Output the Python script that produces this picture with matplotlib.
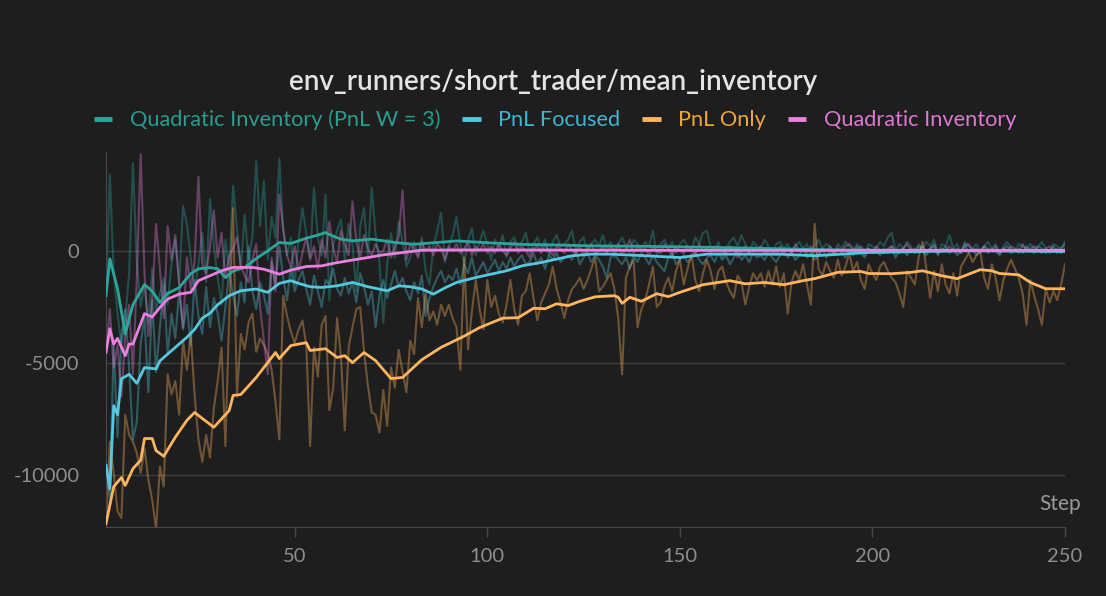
import matplotlib
matplotlib.use('Agg')
import matplotlib.pyplot as plt
from matplotlib.lines import Line2D
import numpy as np

plt.rcParams['font.family'] = ['Lato', 'DejaVu Sans']

# ---- data ----
steps = np.arange(1, 251)

# raw values, one per step
orange_raw = [
    -12200, -8500, -9900, -11600, -11900, -7300, -8200, -8500, -9000, -9900,
    -8800, -10200, -11100, -12400, -9600, -10500, -5500, -6400, -5800, -7300,
    -4000, -5300, -3700, -6400, -8400, -9400, -8200, -9200, -7000, -5800,
    -4300, -8700, -2800, 1900, -6500, -3700, -4400, -3200, -2800, -4500,
    -3900, -4200, -4600, -5300, -6700, -8400, -2000, -2900, -3600, -4100,
    -3500, -3100, -4200, -8700, -4300, -5600, -3300, -2900, -7100, -6100,
    -3000, -4700, -8000, -4300, -3400, -2600, -2500, -4500, -6000, -7200,
    -7300, -8100, -6200, -7800, -5200, -6100, -4400, -5400, -6300, -4000,
    -4600, -2100, -3400, -1900, -3100, -2700, -3300, -2400, -2900, -2400,
    -3000, -3400, -5300, -300, -4400, -2700, -1300, -2600, -3500, -1300,
    -2500, -2000, -2800, -3200, -2400, -1300, -2600, -3300, -2000, -1800,
    -1000, -2100, -3100, -2300, -1900, -1500, -700, -1700, -2300, -3000,
    -2200, -1700, -1500, -1200, -1700, -1300, -800, -300, -1800, -1600,
    -1300, -1000, -1700, -3000, -5500, -1200, -700, -400, -3400, -2600,
    -2200, -1500, -700, -2500, -2300, -1600, -1200, -1800, -900, -400,
    -1500, -800, -150, -1300, -1800, -1000, -400, -900, -1700, -900,
    -700, -1400, -1800, -2100, -1100, -1400, -2400, -1600, -1000, -1300,
    -1000, -1600, -900, -1500, -700, -1600, -1000, -2800, -1400, -900,
    -1300, -600, -1500, -2400, 1200, -800, -1100, -500, -900, -1200,
    -400, -1100, -700, -100, -900, -500, -1300, -1700, -600, -1000,
    -1300, -700, -500, -900, -1200, -1400, -1900, -2500, -900, -1200,
    -1500, -300, 400, -800, -2100, -900, -1800, -600, -1500, -1900,
    -1000, -2000, -700, -400, -100, -500, -200, 0, -1200, -1700,
    -600, -1200, -2200, -1300, -800, -400, -800, -1200, -1900, -3300,
    -1300, -2000, -2600, -3300, -1700, -2300, -1800, -2200, -1500, -600,
]

teal_raw = [
    -1800, 3400, -1000, -2800, -4200, -3000, -1000, 3900, -500, -2500,
    -1500, -3200, -800, -2600, -1900, -1200, -2400, -600, 500, -1500,
    2000, 1200, -300, -1800, -600, 800, -1400, 2300, 200, -1200,
    -2400, 500, -900, 2900, 1000, -800, 1600, -400, 600, 4000,
    1100, 3100, -400, 1500, 600, 4100, 900, -200, 600, -1500,
    500, 1900, 800, -300, 2800, 600, -200, 2500, -2200, 300,
    900, 1400, -400, 1200, 300, -1800, 1100, 1900, -300, 2800,
    700, -500, -3200, -600, 800, -300, 1300, 400, -700, -300,
    400, -200, 600, -900, -1500, 200, 900, 1700, -500, 200,
    700, 1500, 300, -600, 500, 1000, -200, 400, 900, 300,
    -400, 500, 100, 700, -300, 400, 600, 100, 400, 800,
    -100, 300, 600, 100, 500, -200, 400, 700, 200, 300,
    500, 900, 0, 400, 600, -100, 300, 500, 200, 700,
    100, 400, -300, 300, 600, 200, -100, 500, 300, 100,
    400, 200, 900, -200, 300, 500, 100, 400, -100, 300,
    500, 200, 0, 600, 300, 800, 900, 200, -100, 400,
    -300, 100, 400, 600, 200, 700, 300, -100, 400, 200,
    100, 500, 200, -200, 300, 400, 100, 300, -100, 200,
    400, 100, 300, -200, 200, 500, 100, 300, 200, -100,
    300, 100, 400, 200, 0, 300, 100, -200, 300, 200,
    100, 400, 200, 600, 800, 0, 300, 100, 400, 200,
    -100, 300, 100, 400, 200, 500, -100, 300, 200, 700,
    100, 300, -100, 400, 200, 100, 300, 0, 200, 400,
    100, 300, -100, 200, 400, 100, 0, 300, 200, 100,
    300, 100, 200, 400, 100, -100, 300, 200, 100, 400,
]

cyan_raw = [
    -9500, -11000, -4200, -8300, -3800, -2600, -5200, -8400, -7600, -4100,
    -3000, -6300, -2200, -5400, -3400, -1500, -4600, -2800, -3900, -1800,
    -3500, -2400, -4200, -1300, -2900, -3700, -1600, -3400, -2100, -2800,
    -4000, -2500, -900, -2000, -2900, -1400, -2300, 200, -1800, -2600,
    -1400, -2000, -2800, -500, -1500, 200, -1200, -2200, -700, -1800,
    -1300, -900, -1700, -2400, -1100, -1800, -2500, -1300, -1500, -800,
    -1700, -2000, -1200, -1900, -1400, -2300, -1000, -1600, -2400, -1800,
    -3400, -2000, -1300, -2100, -1500, -900, -1600, -1200, -1800, -2200,
    -1400, -1900, -1100, -2900, -2100, -1600, -1200, -900, -1400, -1100,
    -1300, -800, -1500, -600, -1000, -300, -1100, -800, -500, -1000,
    -700, -400, -900, -500, -800, -300, -700, -400, -200, -600,
    -500, -100, -600, -300, -800, -200, -400, -100, -500, -300,
    -200, -400, 0, -600, -300, -100, -500, -200, -400, -700,
    -1200, -300, -100, -400, -600, -300, -800, -200, -500, -100,
    -300, -600, -200, -500, -700, -900, -300, -100, -600, -400,
    -200, -500, -300, -100, -400, -600, -300, -200, -500, -100,
    -400, -200, -600, -300, 0, -400, -200, -500, -100, -300,
    -200, -400, -100, -300, -500, -200, 0, -300, -100, -400,
    -200, 100, -300, -100, -400, -200, 100, -300, 0, -200,
    100, -100, -300, 0, -200, 200, -100, -300, 100, -100,
    0, -200, 100, -100, 200, -300, 0, 100, -200, 100,
    -100, 200, 0, -200, 100, 300, -100, 0, 200, -100,
    100, -200, 0, 300, -100, 100, -200, 0, 200, -100,
    100, 0, -200, 100, 200, -100, 0, 100, -100, 200,
    0, -100, 200, 100, -100, 0, 200, -100, 100, 300,
]

pink_raw = [
    -4500, -2600, -5200, -4200, -6500, -3800, -2400, -5500, -1200, 4300,
    -1000, -3800, -2200, 1200, -800, -3000, 1100, -400, 700, -1500,
    -3400, -300, -1700, -500, 3300, -600, -1000, 200, 1800, -300,
    800, -1200, -200, 100, 600, -700, -1100, -1400, -400, 300,
    -2500, -4000, -5500, -300, -1800, 2500, 1000, -200, -700, 200,
    -900, -100, 600, -400, 200, -800, 500, -300, 1300, 100,
    -500, 900, 300, -200, 2200, 400, -300, 700, 100, -200,
    300, -100, 0, 500, -300, 200, 600, 2700, -400, 300,
    100, -300, 400, 0, 200, -200, 300, 100, -400, 200,
    0, 300, -100, 100, 400, -200, 200, 0, 300, -100,
    200, -100, 300, 0, -200, 100, 400, -100, 200, 0,
    -300, 100, 200, -100, 300, 0, -200, 200, 100, -100,
    300, 0, -100, 200, -200, 100, 300, -100, 0, 200,
    -100, 200, 0, 300, -200, 100, 500, -100, 200, 0,
    100, -200, 200, 0, -100, 300, 100, -200, 200, 0,
    -100, 200, 100, -200, 300, 0, 100, -100, 200, 100,
    0, -100, 200, 100, -300, 0, 200, -100, 100, 0,
    200, -100, 0, 100, -200, 200, 0, 100, -100, 300,
    0, 100, -100, 200, 0, -200, 100, 0, 200, -100,
    100, 0, 200, 300, 100, -100, 200, 0, 100, -100,
    200, 0, -100, 100, 200, 0, -100, 100, 300, 0,
    100, -100, 200, 0, 100, 200, -200, 100, 0, 200,
    0, 100, -100, 200, 300, 0, 100, -100, 200, 100,
    0, 200, -100, 100, 0, 200, 100, -100, 300, 0,
    100, 200, 0, -100, 100, 200, 0, 100, -100, 100,
]

# smoothed curves (read at the visible turning points)
orange_s_steps = [1, 3, 5, 6, 8, 10, 11, 13, 14, 16, 19, 22, 24, 29, 33, 34, 36, 40,
                  45, 46, 49, 53, 54, 58, 61, 63, 65, 68, 71, 75, 78, 83, 88, 94, 98,
                  104, 108, 112, 115, 118, 121, 124, 128, 133, 134, 135, 137, 140,
                  144, 147, 150, 156, 163, 167, 172, 177, 182, 185, 191, 197, 199,
                  205, 210, 213, 218, 222, 228, 231, 233, 238, 241, 245, 250]
orange_s = [-12150, -10500, -10100, -10450, -9700, -9330, -8360, -8360, -8900, -9150,
            -8300, -7550, -7200, -7860, -7110, -6440, -6400, -5640, -4530, -4800,
            -4220, -4090, -4440, -4360, -4750, -4670, -4980, -4530, -4890, -5690,
            -5640, -4850, -4300, -3800, -3420, -3000, -2980, -2560, -2580, -2360,
            -2440, -2250, -2050, -2000, -2070, -2340, -2070, -2250, -1910, -2040,
            -1850, -1510, -1330, -1470, -1410, -1510, -1330, -1240, -960, -920,
            -1010, -1020, -960, -890, -1110, -1240, -840, -890, -1010, -1070,
            -1410, -1690, -1690]

teal_s_steps = [1, 2, 4, 6, 8, 9, 11, 13, 15, 17, 20, 23, 25, 28, 30, 32, 34, 37, 40,
                43, 46, 49, 53, 56, 58, 60, 62, 65, 70, 76, 81, 87, 92, 101, 110, 118,
                127, 140, 160, 176, 190, 210, 250]
teal_s = [-2000, -360, -1700, -3700, -2400, -2100, -1500, -1800, -2300, -1900, -1640,
          -1020, -800, -750, -800, -1190, -900, -740, -350, 0, 370, 330, 560, 700, 810,
          650, 520, 440, 520, 370, 290, 370, 440, 350, 280, 260, 220, 200, 150, 90, 40,
          20, 20]

cyan_s_steps = [1, 2, 3, 4, 5, 7, 9, 11, 14, 15, 17, 19, 22, 24, 26, 28, 30, 33, 36,
                40, 43, 46, 49, 51, 54, 57, 61, 65, 69, 74, 77, 80, 83, 86, 89, 92, 97,
                101, 105, 109, 114, 118, 122, 127, 132, 141, 150, 157, 176, 185, 199,
                225, 250]
cyan_s = [-9550, -10600, -6900, -7300, -5700, -5500, -5900, -5200, -5260, -4900, -4600,
          -4300, -3850, -3500, -3000, -2780, -2400, -2000, -1780, -1700, -1850, -1450,
          -1330, -1450, -1600, -1630, -1560, -1410, -1600, -1780, -1560, -1600, -1700,
          -1930, -1650, -1410, -1190, -1040, -890, -670, -520, -370, -220, -150, -150,
          -220, -300, -150, -150, -220, -75, 0, -30]

pink_s_steps = [1, 2, 3, 4, 6, 7, 8, 10, 11, 13, 15, 17, 20, 23, 25, 28, 31, 34, 39,
                42, 46, 49, 53, 57, 60, 64, 69, 73, 77, 83, 100, 150, 250]
pink_s = [-4520, -3470, -4150, -3900, -4670, -4150, -4150, -3250, -2800, -2950, -2520,
          -2150, -1930, -1850, -1330, -1110, -890, -740, -740, -820, -1040, -860, -700,
          -670, -560, -440, -300, -180, -100, 30, 40, 20, 20]

labels = ['Quadratic Inventory (PnL W = 3)', 'PnL Focused', 'PnL Only', 'Quadratic Inventory']
colors = ['#2ba69b', '#55c8df', '#ffb45e', '#ea80df']
text_colors = ['#2a9d8f', '#3db6d6', '#f0a43c', '#de76d4']

bg = '#1e1e1e'
fig = plt.figure(figsize=(11.06, 5.96), dpi=100, facecolor=bg)
ax = fig.add_axes([106 / 1106, 1 - 527 / 596, 959 / 1106, 375 / 596])
ax.set_facecolor(bg)

raws = [teal_raw, cyan_raw, orange_raw, pink_raw]
for r, c in zip(raws, colors):
    ax.plot(steps, r, color=c, alpha=0.36, lw=1.5, zorder=2)

smooth = {
    2: (orange_s_steps, orange_s),
    1: (cyan_s_steps, cyan_s),
    0: (teal_s_steps, teal_s),
    3: (pink_s_steps, pink_s),
}
for i, (xs, ys) in smooth.items():
    ax.plot(xs, ys, color=colors[i], lw=2.0, zorder=3 + i * 0.1, solid_joinstyle='round')

ax.set_xlim(1, 250)
ax.set_ylim(-12300, 4400)
ax.set_xticks([50, 100, 150, 200, 250])
ax.set_yticks([0, -5000, -10000])
ax.set_yticklabels(['0', '-5000', '-10000'])
ax.grid(axis='y', color='#3e3e42', lw=1)
ax.set_axisbelow(True)
for s in ['top', 'right']:
    ax.spines[s].set_visible(False)
ax.spines['bottom'].set_color('#48484c')
ax.spines['left'].set_color('#48484c')
ax.tick_params(axis='x', colors='#48484c', length=7, width=1, labelcolor='#8e8e8e',
               labelsize=14.5, pad=8)
ax.tick_params(axis='y', length=0, labelcolor='#8e8e8e', labelsize=14.5, pad=19)

fig.text(553 / 1106, 1 - 82 / 596, 'env_runners/short_trader/mean_inventory',
         ha='center', va='center', color='#e4e4e4', fontsize=20, fontweight='semibold')
fig.text(1081 / 1106, 1 - 504 / 596, 'Step', ha='right', va='center',
         color='#9a9a9a', fontsize=15)

handles = [Line2D([0], [0], color=c, lw=3.5, solid_capstyle='butt') for c in colors]
fig.legend(handles, labels, loc='center', bbox_to_anchor=(555 / 1106, 1 - 120 / 596),
           ncol=4, frameon=False, fontsize=15.7, handlelength=0.85, handletextpad=0.8,
           columnspacing=1.0, labelcolor=text_colors)

fig.savefig('out.png', dpi=100, facecolor=bg)
